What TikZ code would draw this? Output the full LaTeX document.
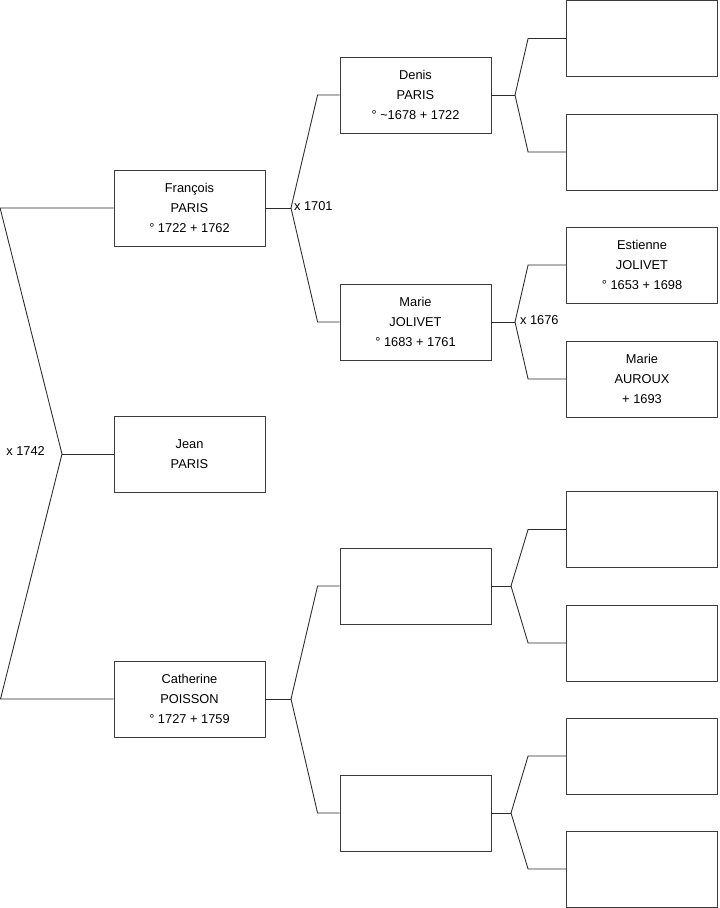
\documentclass[tikz,border=0pt]{standalone}
\usepackage{fontspec}
\setmainfont{Liberation Sans}
\usepackage{tikz}
\usetikzlibrary{positioning,calc}
\definecolor{ink}{HTML}{2B2B2B}
\definecolor{frame}{HTML}{3C3C3C}
\tikzset{
  personbox/.style={rectangle,draw=frame,line width=0.5pt,fill=white,align=center,minimum width=3.02cm,minimum height=1.52cm,inner sep=0pt,font=\fontsize{7.3}{11.3}\selectfont,text=black},
  link/.style={draw=ink,line width=0.5pt},
  marriage/.style={font=\fontsize{7.3}{9}\selectfont,inner sep=1pt}
}
\begin{document}
\begin{tikzpicture}[x=0.02cm,y=-0.02cm]
  \useasboundingbox (0,0) rectangle (719,908);

  % generation 1
  \node[personbox] (jean) at (189.5,454) {Jean\\PARIS};
  % generation 2
  \node[personbox] (francois) at (189.5,208) {François\\PARIS\\° 1722 + 1762};
  \node[personbox] (catherine) at (189.5,699) {Catherine\\POISSON\\° 1727 + 1759};
  % generation 3
  \node[personbox] (denis) at (415.5,95) {Denis\\PARIS\\° \textasciitilde1678 + 1722};
  \node[personbox] (mariej) at (415.5,322) {Marie\\JOLIVET\\° 1683 + 1761};
  \node[personbox] (catfather) at (415.5,586) {};
  \node[personbox] (catmother) at (415.5,813) {};
  % generation 4
  \node[personbox] (denisfather) at (642,38.5) {};
  \node[personbox] (denismother) at (642,152) {};
  \node[personbox] (estienne) at (642,265) {Estienne\\JOLIVET\\° 1653 + 1698};
  \node[personbox] (mariea) at (642,379) {Marie\\AUROUX\\+ 1693};
  \node[personbox] (gf1) at (642,529.5) {};
  \node[personbox] (gm1) at (642,643) {};
  \node[personbox] (gf2) at (642,756) {};
  \node[personbox] (gm2) at (642,869) {};

  % junctions
  \coordinate (m0) at (62,454);
  \coordinate (m1) at (291,208);
  \coordinate (m2) at (291,699);
  \coordinate (m3) at (515,95);
  \coordinate (m4) at (515,322);
  \coordinate (m5) at (511,586);
  \coordinate (m6) at (511,813);

  \draw[link] (jean.west) -- (m0);
  \draw[link] (francois.west) -- ++(-113.5,0) -- (m0) -- ++(-61.5,245) -- (catherine.west);

  \draw[link] (francois.east) -- (m1);
  \draw[link] (denis.west) -- ++(-22,0) -- (m1) -- ($(mariej.west)+(-22,0)$) -- (mariej.west);
  \draw[link] (catherine.east) -- (m2);
  \draw[link] (catfather.west) -- ++(-22,0) -- (m2) -- ($(catmother.west)+(-22,0)$) -- (catmother.west);

  \draw[link] (denis.east) -- (m3);
  \draw[link] (denisfather.west) -- ++(-38,0) -- (m3) -- ($(denismother.west)+(-38,0)$) -- (denismother.west);
  \draw[link] (mariej.east) -- (m4);
  \draw[link] (estienne.west) -- ++(-38,0) -- (m4) -- ($(mariea.west)+(-38,0)$) -- (mariea.west);
  \draw[link] (catfather.east) -- (m5);
  \draw[link] (gf1.west) -- ++(-38,0) -- (m5) -- ($(gm1.west)+(-38,0)$) -- (gm1.west);
  \draw[link] (catmother.east) -- (m6);
  \draw[link] (gf2.west) -- ++(-38,0) -- (m6) -- ($(gm2.west)+(-38,0)$) -- (gm2.west);

  \node[marriage,anchor=east] (w0) at (47,451) {x 1742};
  \node[marriage,anchor=west] (w1) at (292,206) {x 1701};
  \node[marriage,anchor=west] (w4) at (518,320) {x 1676};
\end{tikzpicture}
\end{document}
